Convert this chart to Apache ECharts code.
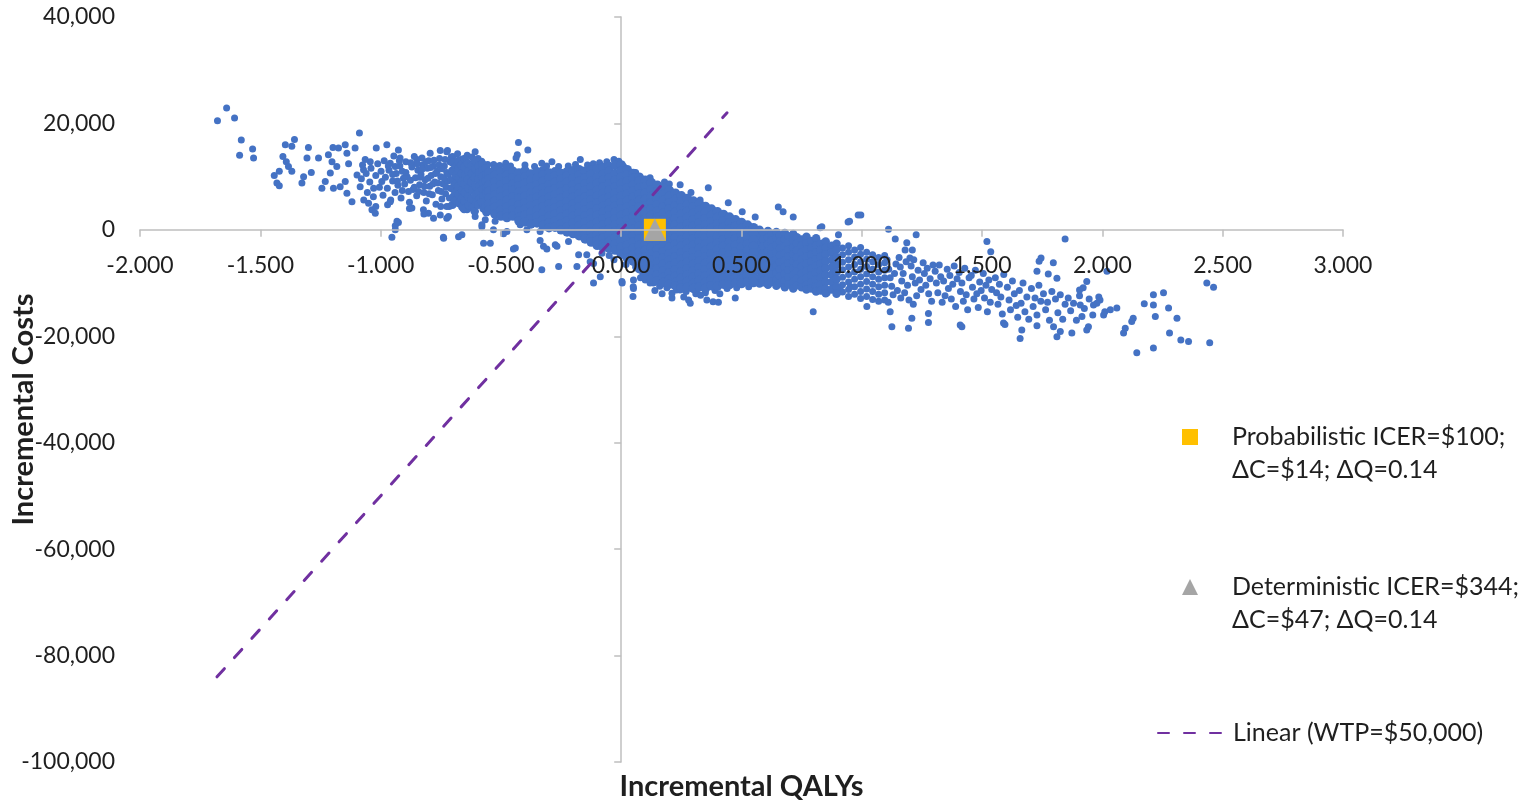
<!DOCTYPE html>
<html>
<head>
<meta charset="utf-8">
<script src="https://cdn.jsdelivr.net/npm/echarts@6/dist/echarts.min.js"></script>
<style>
html,body{margin:0;padding:0;background:#ffffff;}
#chart{width:1530px;height:810px;}
</style>
</head>
<body>
<div id="chart"></div>
<script>
// ---------------- DATA ----------------
const xTickMin = -2, xTickMax = 3, xTickStep = 0.5;
const yTickMin = -100000, yTickMax = 40000, yTickStep = 20000;

// Sparse simulations, far left (QALY, cost)
const psaFarLeft = [
  [-1.678,20500],[-1.640,22900],[-1.607,21000],[-1.579,16900],[-1.586,14000],[-1.532,15200],[-1.528,13500],
  [-1.442,10200],[-1.421,11000],[-1.431,8800],[-1.421,8300],[-1.406,13800],[-1.396,16000],[-1.358,17000],
  [-1.369,15700],[-1.392,12800],[-1.383,11900],[-1.369,11000],[-1.327,8800],[-1.320,10000],[-1.306,13500],
  [-1.300,15500],[-1.288,10800],[-1.258,13500],[-1.244,7800],[-1.230,9100],[-1.217,14100],[-1.202,12800],
  [-1.198,15500],[-1.175,15400],[-1.182,11900],[-1.209,10700],[-1.196,7800],[-1.168,8100],[-1.147,16000],
  [-1.140,14400],[-1.133,12400],[-1.147,9100],[-1.140,6900],[-1.119,5300],[-1.106,15400],[-1.088,18200],
  [-1.098,10300],[-1.085,8100],[-1.071,11300]
];

// Simulations between -1.1 and -0.7 QALY
const psaMidLeft = [
  [-1.050,5000],[-1.036,3800],[-1.022,3100],[-1.029,7800],[-1.043,12800],[-1.018,15400],[-1.064,13200],
  [-0.995,9100],[-0.974,16000],[-0.971,4700],[-0.960,12500],[-0.939,11900],[-0.926,15000],[-0.932,1600],
  [-0.939,0],[-0.953,-1400],[-0.919,13500],[-0.905,9700],[-0.884,7200],[-0.870,4100],[-0.849,13200],
  [-0.828,13500],[-0.822,3800],[-0.794,14400],[-0.801,3100],[-0.752,14900],[-0.722,14900],[-0.739,-1400],
  [-0.725,2200],[-0.676,-1300],[-0.939,750],[-0.926,1400],
  [-1.080,9600],[-1.075,12200],[-1.060,10600],[-1.055,7000],[-1.045,9000],[-1.040,11600],[-1.030,6200],
  [-1.020,10200],[-1.012,12400],[-1.005,8000],[-0.998,11000],[-0.990,6500],[-0.985,13000],[-0.980,9900],
  [-0.972,7800],[-0.965,11200],[-0.958,5600],[-0.950,9200],[-0.945,13900],[-0.940,7000],[-0.935,10600],
  [-0.928,8400],[-0.920,12000],[-0.915,6000],[-0.910,11000],[-0.900,8600],[-0.895,12800],[-0.890,10000],
  [-0.880,5200],[-0.876,9300],[-0.870,11800],[-0.865,7600],[-0.860,13800],[-0.855,9800],[-0.850,6400],
  [-0.845,11200],[-0.838,8500],[-0.832,10400],[-0.826,12200],[-0.820,7000],[-0.815,9400],[-0.810,5400],
  [-0.806,11600],[-0.800,13000],[-0.796,8200],[-0.790,10200],[-0.785,6600],[-0.780,12000],[-0.775,9000],
  [-0.770,4800],[-0.765,11000],[-0.760,7400],[-0.755,13400],[-0.750,10000],[-0.745,5800],[-0.740,8600],
  [-0.735,12000],[-0.730,6800],[-0.725,10800],[-0.720,9200],[-0.715,4400],[-0.712,12800],[-0.708,7800],
  [-0.704,11200],
  [-0.848,12400],[-0.842,7200],[-0.836,9900],[-0.828,11400],[-0.818,8200],[-0.812,12800],[-0.803,9700],
  [-0.798,6800],[-0.792,11700],[-0.783,8600],[-0.778,13100],[-0.772,10600],[-0.762,8800],[-0.757,12200],
  [-0.748,7200],[-0.744,11500],[-0.738,9800],[-0.732,13200],[-0.727,8000],[-0.718,10400],[-0.714,6000],
  [-0.709,9400],[-0.706,13700],[-0.950,10400],[-0.930,9200],[-0.910,7400],[-0.895,10800],[-0.875,12600],
  [-0.860,8000],[-0.968,12000],[-0.922,13000],
  [-1.070,5600],[-1.020,4400],[-0.960,5300],[-0.880,4000],[-0.820,3000],[-0.780,2200],[-0.750,4400]
];

// Simulations between -0.7 and -0.56 QALY
const psaNearCoreLeft = [
  [-0.700,12600],[-0.700,11000],[-0.698,9300],[-0.702,7800],[-0.697,6200],[-0.701,4700],
  [-0.688,11900],[-0.686,10200],[-0.690,8600],[-0.689,7000],[-0.687,5500],
  [-0.676,13000],[-0.677,11400],[-0.674,9800],[-0.678,8200],[-0.675,6600],[-0.673,5000],
  [-0.664,12200],[-0.662,10600],[-0.665,9000],[-0.661,7400],[-0.663,5800],[-0.660,4300],
  [-0.650,13300],[-0.652,11800],[-0.648,10200],[-0.651,8600],[-0.649,7000],[-0.650,5400],[-0.653,3900],
  [-0.637,12500],[-0.635,11000],[-0.638,9400],[-0.634,7800],[-0.636,6200],[-0.633,4600],
  [-0.622,12100],[-0.620,10600],[-0.623,9000],[-0.619,7400],[-0.621,5800],[-0.618,4200],
  [-0.607,13000],[-0.605,11400],[-0.608,9800],[-0.604,8200],[-0.606,6600],[-0.603,5000],[-0.609,3500],
  [-0.592,12000],[-0.590,10800],[-0.593,9500],[-0.589,8300],[-0.591,7100],[-0.588,5900],[-0.594,4700],
  [-0.577,12400],[-0.575,11200],[-0.578,10000],[-0.574,8800],[-0.576,7600],[-0.573,6400],[-0.579,5200],[-0.572,4000],
  [-0.562,11600],[-0.560,10400],[-0.563,9200],[-0.559,8000],[-0.561,6800],[-0.558,5600],[-0.564,4400],[-0.560,3300]
];

// Dense core: each row is [QALY, cost, cost, ...]
const psaCoreColumns = [
  [-0.550,10800,9600,8400,7200,6000,4800,3700],
  [-0.525,11300,10200,9000,7800,6600,5400,4200,3000],
  [-0.500,10900,9700,8500,7300,6100,4900,3700,2600],
  [-0.475,11500,10300,9100,7900,6700,5500,4300,3100,2300],
  [-0.450,11000,9800,8600,7400,6200,5000,3800,2600],
  [-0.425,10700,9500,8300,7100,5900,4700,3500,2300,1700],
  [-0.400,11100,9900,8700,7500,6300,5100,3900,2700,1500],
  [-0.375,10500,9300,8100,6900,5700,4500,3300,2100,1100],
  [-0.350,10900,9700,8500,7300,6100,4900,3700,2500,1300],
  [-0.325,11100,10300,9100,7900,6700,5500,4300,3100,1900,800],
  [-0.300,10700,9700,8500,7300,6100,4900,3700,2500,1300,400],
  [-0.275,10900,10100,8900,7700,6500,5300,4100,2900,1700,500],
  [-0.250,10600,9500,8300,7100,5900,4700,3500,2300,1100,0],
  [-0.225,10900,10100,8900,7700,6500,5300,4100,2900,1700,500,-400],
  [-0.200,11100,9700,8500,7300,6100,4900,3700,2500,1300,100,-700],
  [-0.175,11300,10300,9100,7900,6700,5500,4300,3100,1900,700,-500,-1100],
  [-0.150,11000,9800,8600,7400,6200,5000,3800,2600,1400,200,-1000,-1700],
  [-0.125,11300,10400,9200,8000,6800,5600,4400,3200,2000,800,-400,-1600,-2300],
  [-0.100,11500,9900,8700,7500,6300,5100,3900,2700,1500,300,-900,-2000,-2900],
  [-0.075,11700,10500,9300,8100,6900,5700,4500,3300,2100,900,-300,-1500,-2700,-3300],
  [-0.050,11900,11000,9800,8600,7400,6200,5000,3800,2600,1400,200,-1000,-2200,-3500],
  [-0.025,12100,10500,9300,8100,6900,5700,4500,3300,2100,900,-300,-1500,-2700,-3800],
  [0.000,12200,11100,9900,8700,7500,6300,5100,3900,2700,1500,300,-900,-2100,-3300,-4600],
  [0.025,11300,10300,9100,7900,6700,5500,4300,3100,1900,700,-500,-1700,-2900,-4100,-5300],
  [0.050,10600,9700,8500,7300,6100,4900,3700,2500,1300,100,-1100,-2300,-3500,-4700,-5900],
  [0.075,9900,9100,7900,6700,5500,4300,3100,1900,700,-500,-1700,-2900,-4100,-5300,-6500,-7300],
  [0.100,9300,8100,6900,5700,4500,3300,2100,900,-300,-1500,-2700,-3900,-5100,-6300,-7500,-8700],
  [0.125,8900,7500,6300,5100,3900,2700,1500,300,-900,-2100,-3300,-4500,-5700,-6900,-8100,-9200],
  [0.150,8400,7100,5900,4700,3500,2300,1100,-100,-1300,-2500,-3700,-4900,-6100,-7300,-8500,-9600],
  [0.175,7900,6700,5500,4300,3100,1900,700,-500,-1700,-2900,-4100,-5300,-6500,-7700,-8900,-9900],
  [0.200,7400,6300,5100,3900,2700,1500,300,-900,-2100,-3300,-4500,-5700,-6900,-8100,-9300,-10200],
  [0.225,6900,5700,4500,3300,2100,900,-300,-1500,-2700,-3900,-5100,-6300,-7500,-8700,-9900,-10500],
  [0.250,6400,5300,4100,2900,1700,500,-700,-1900,-3100,-4300,-5500,-6700,-7900,-9100,-10300,-10900],
  [0.275,5900,4700,3500,2300,1100,-100,-1300,-2500,-3700,-4900,-6100,-7300,-8500,-9700,-10800],
  [0.300,5400,4300,3100,1900,700,-500,-1700,-2900,-4100,-5300,-6500,-7700,-8900,-10100,-11000],
  [0.325,4900,3700,2500,1300,100,-1100,-2300,-3500,-4700,-5900,-7100,-8300,-9500,-10700],
  [0.350,4400,3300,2100,900,-300,-1500,-2700,-3900,-5100,-6300,-7500,-8700,-9900,-11000],
  [0.375,3900,2700,1500,300,-900,-2100,-3300,-4500,-5700,-6900,-8100,-9300,-10500],
  [0.400,3400,2300,1100,-100,-1300,-2500,-3700,-4900,-6100,-7300,-8500,-9700,-10600],
  [0.425,2900,1700,500,-700,-1900,-3100,-4300,-5500,-6700,-7900,-9100,-10200],
  [0.450,2400,1300,100,-1100,-2300,-3500,-4700,-5900,-7100,-8300,-9500,-10300],
  [0.475,1900,700,-500,-1700,-2900,-4100,-5300,-6500,-7700,-8900,-10000],
  [0.500,1400,300,-900,-2100,-3300,-4500,-5700,-6900,-8100,-9300,-10100],
  [0.525,900,-300,-1500,-2700,-3900,-5100,-6300,-7500,-8700,-9800],
  [0.550,400,-700,-1900,-3100,-4300,-5500,-6700,-7900,-9100,-9900]
];

// Right of the core (0.55 - 0.9 QALY): each row is [QALY, cost, cost, ...]
const psaMidRightColumns = [
  [0.575,0,-1200,-2500,-3800,-5100,-6400,-7700,-9000,-10100],
  [0.590,-600,-1800,-3100,-4400,-5700,-7000,-8300,-9600],
  [0.610,-200,-1400,-2700,-4000,-5300,-6600,-7900,-9200,-10300],
  [0.625,-800,-2000,-3300,-4600,-5900,-7200,-8500,-9800],
  [0.645,-400,-1600,-2900,-4200,-5500,-6800,-8100,-9400,-10500],
  [0.660,-1000,-2200,-3500,-4800,-6100,-7400,-8700,-10000],
  [0.680,-600,-1800,-3100,-4400,-5700,-7000,-8300,-9600,-10800],
  [0.695,-1200,-2400,-3700,-5000,-6300,-7600,-8900,-10200],
  [0.715,-800,-2000,-3300,-4600,-5900,-7200,-8500,-9800,-11000],
  [0.730,-1400,-2600,-3900,-5200,-6500,-7800,-9100,-10400],
  [0.750,-1800,-3000,-4300,-5600,-6900,-8200,-9500,-10800],
  [0.770,-1300,-2500,-3800,-5100,-6400,-7700,-9000,-10300,-11200],
  [0.790,-2100,-3400,-4700,-6000,-7300,-8600,-9900,-11000],
  [0.810,-1600,-2900,-4200,-5500,-6800,-8100,-9400,-10700,-11600],
  [0.830,-2600,-3800,-5100,-6400,-7700,-9000,-10300,-11400],
  [0.850,-2200,-3300,-4600,-5900,-7200,-8500,-9800,-11100,-11900],
  [0.875,-3000,-4200,-5600,-7000,-8400,-9800,-11200],
  [0.895,-2600,-3700,-5100,-6500,-7900,-9300,-10700,-12000]
];

// Thinning band (0.9 - 1.1 QALY): each row is [QALY, cost, cost, ...]
const psaOuterRightColumns = [
  [0.920,-3400,-4700,-6100,-7500,-8900,-10300,-11700],
  [0.945,-3000,-4200,-5600,-7000,-8400,-9800,-11200,-12500],
  [0.970,-3800,-5100,-6500,-7900,-9300,-10700,-12100],
  [0.995,-3300,-4600,-6000,-7400,-8800,-10200,-11600,-12900],
  [1.020,-4200,-5500,-6900,-8300,-9700,-11100,-12500],
  [1.045,-4700,-6000,-7400,-8800,-10200,-11600,-13100],
  [1.070,-5200,-6500,-7900,-9300,-10700,-12100,-13400],
  [1.095,-4800,-6200,-7600,-9000,-10400,-11800,-13200]
];

// Scattered simulations around the core edges
const psaFringe = [
  [-0.752,2800],[-0.718,2500],[-0.725,4400],[-0.641,3800],[-0.607,2500],[-0.565,1900],[-0.738,-1600],
  [-0.662,-940],[-0.579,600],[-0.572,-2500],[-0.544,-2500],[-0.531,0],[-0.440,-3400],[-0.337,-300],
  [-0.323,-3100],[-0.274,-2800],[-0.260,-6900],[-0.184,-6900],[-0.143,-4700],[-0.579,940],[-0.524,1600],
  [-0.475,-300],[-0.420,940],[-0.392,0],[-0.489,-750],[-0.448,-3600],[-0.330,-7500],[-0.309,-3600],
  [-0.337,-2000],[-0.267,-3100],[-0.219,-2200],[-0.177,-4700],[-0.129,-6000],[-0.115,-6300],[-0.087,-8800],
  [-0.115,-10000],[0.003,-9700],[0.051,-9400],[0.051,-11000],[0.049,-12500],[0.134,-10000],[0.211,-12800],
  [0.280,-13200],[0.315,-11900],[0.356,-13200],[0.004,-10000],[0.050,-10700],[0.211,-11900],[0.245,-11300],
  [0.287,-13800],[0.382,-13500],[0.404,-13600],[0.474,-12800],[0.481,-10000],[0.564,-9100],[0.591,-10000],
  [0.798,-15400],[0.856,-11800],[0.910,-11300],[0.952,-10700],
  [0.020,-6500],[0.060,-7000],[0.090,-8200],[0.120,-10000],[0.160,-10600],[0.190,-10900],[0.230,-11300],
  [0.270,-11600],[0.310,-12000],[0.350,-11800],[0.390,-11400],[0.440,-11000],[0.480,-10900],[0.530,-10700],
  [-0.050,-4800],[-0.080,-4400],[-0.030,-5600],[0.100,-9400],[0.170,-12000],[0.260,-12600],[0.330,-12300],
  [0.410,-12000],[0.080,-9000],[0.140,-11400],
  [-0.700,13800],[-0.680,14300],[-0.660,13300],[-0.640,14000],[-0.620,13700],[-0.595,13400],[-0.580,12900],
  [-0.555,12300],[-0.530,12300],[-0.505,12100],[-0.480,12500],[-0.460,12000],[-0.400,12200],[-0.360,11900],
  [-0.310,12000],[-0.260,11900],[-0.220,12000],[-0.190,12300],[-0.140,12200],[-0.090,12600],[-0.060,12800],
  [-0.030,13200],[-0.010,12900],[0.010,11900],[-0.427,16400],[-0.432,14100],[-0.437,13500],[-0.388,15000],
  [-0.607,14700],[-0.725,14700],[-0.288,12800],[-0.330,12500],[-0.170,13200],[-0.116,12400],[0.003,11900],
  [0.060,10800],[0.120,9800],[0.180,9000],[0.200,8600],[0.290,7000],
  [0.245,8500],[0.362,7900],[0.328,5600],[0.445,5100],[0.503,3400],[0.557,2400],[0.653,4300],[0.673,3400],
  [0.715,2400],[0.943,1500],[0.827,400],[0.985,2800],[0.633,-1600],[0.834,600],[0.903,-940],[0.996,2800],
  [0.949,1600],[1.111,100],[1.139,-1700],[1.187,-2400],[1.226,-940],[1.180,-3800],[1.210,-3800],
  [1.200,-5300],[1.520,-2200],[1.536,-4100],[1.845,-1700]
];

// Band of simulations between 1.1 and 2.0 QALY
const psaRightBand = [
  [1.105,-5600],[1.112,-7400],[1.118,-9000],[1.124,-10600],[1.130,-12200],[1.136,-8200],[1.142,-6400],[1.148,-11400],[1.110,-13600],
  [1.155,-5200],[1.160,-7000],[1.166,-9600],[1.172,-8200],[1.178,-11800],[1.184,-6000],[1.190,-10400],[1.196,-13200],[1.162,-12800],
  [1.205,-6800],[1.210,-8800],[1.216,-5600],[1.222,-10000],[1.228,-12400],[1.234,-7600],[1.240,-9400],[1.246,-11200],[1.214,-14000],
  [1.255,-6200],[1.260,-8200],[1.266,-10400],[1.272,-7200],[1.278,-12000],[1.284,-9200],[1.290,-13400],[1.296,-6600],
  [1.305,-7800],[1.310,-10000],[1.316,-11800],[1.322,-6600],[1.328,-8800],[1.334,-13600],[1.340,-9600],[1.346,-12400],
  [1.355,-7400],[1.360,-11000],[1.366,-8600],[1.372,-13000],[1.378,-10200],[1.384,-6800],[1.390,-14400],[1.396,-9200],
  [1.405,-8000],[1.410,-11600],[1.416,-10000],[1.422,-13400],[1.428,-7200],[1.434,-12200],[1.440,-15000],[1.446,-9000],
  [1.455,-8600],[1.460,-10800],[1.466,-13000],[1.472,-7600],[1.478,-12000],[1.484,-14600],[1.490,-9800],[1.496,-11400],
  [1.505,-8200],[1.510,-12800],[1.516,-10400],[1.522,-15400],[1.528,-9400],[1.534,-13600],[1.540,-11200],
  [1.555,-9000],[1.560,-11800],[1.566,-14000],[1.572,-10200],[1.578,-12600],[1.584,-15800],[1.590,-8400],
  [1.605,-10800],[1.612,-13200],[1.618,-15000],[1.626,-9600],[1.634,-12000],[1.642,-14200],[1.648,-16400],
  [1.655,-11400],[1.662,-13800],[1.670,-10000],[1.678,-15400],[1.686,-12600],[1.694,-16800],
  [1.705,-11000],[1.712,-14400],[1.720,-12800],[1.728,-16000],[1.736,-10400],[1.744,-13400],
  [1.755,-12000],[1.764,-15000],[1.772,-13600],[1.780,-17000],[1.790,-11600],
  [1.805,-13000],[1.815,-15600],[1.825,-12200],[1.835,-16800],[1.845,-14000],
  [1.858,-12800],[1.868,-15200],[1.880,-13800],[1.892,-17000],
  [1.905,-12400],[1.925,-14800],[1.945,-13000],[1.960,-16000],[1.985,-12600]
];

// Outlying simulations on the right
const psaRightTail = [
  [1.745,-5300],[1.737,-5900],[1.796,-6200],[1.728,-7800],[1.775,-8300],[1.811,-9100],[2.019,-7800],
  [1.935,-9700],[1.920,-10900],[1.905,-11300],[2.434,-10000],[2.462,-10800],[2.212,-12200],[2.254,-11800],
  [2.174,-13900],[2.212,-14100],[2.275,-14700],[2.220,-16300],[2.310,-16600],[2.128,-16600],[2.122,-17200],
  [2.095,-18500],[2.088,-19400],[2.279,-19400],[2.326,-20700],[2.358,-21000],[2.446,-21200],[2.143,-23100],
  [2.212,-22200],[2.060,-14700],[2.033,-15000],[2.005,-16000],[2.010,-15400],[1.990,-13200],[1.977,-13800],
  [1.963,-14100],[1.908,-14100],[1.915,-16300],[1.942,-18200],[1.935,-18800],[1.873,-19400],[1.825,-19100],
  [1.811,-20100],[1.797,-18200],[1.728,-18000],[1.658,-20400],[1.665,-18800],[1.589,-17500],[1.595,-17800],
  [1.409,-17900],[1.416,-18200],[1.277,-17400],[1.194,-18500],[1.125,-18200],[1.021,-14400],[1.118,-15400],
  [1.208,-16600],[1.277,-15700]
];

const probabilisticPoint = [[0.14, 14]];
const deterministicPoint = [[0.14, 47]];
const wtpLine = [[-1.68, -84000], [0.44, 22000]];

const seriesNames = {
  prob: 'Probabilistic ICER=$100; ΔC=$14; ΔQ=0.14',
  det: 'Deterministic ICER=$344; ΔC=$47; ΔQ=0.14',
  wtp: 'Linear (WTP=$50,000)'
};
const legendLines = {
  prob: ['Probabilistic ICER=$100;', 'ΔC=$14; ΔQ=0.14'],
  det: ['Deterministic ICER=$344;', 'ΔC=$47; ΔQ=0.14'],
  wtp: ['Linear (WTP=$50,000)']
};
const xAxisTitle = 'Incremental QALYs';
const yAxisTitle = 'Incremental Costs';

// ---------------- BUILD ----------------
function fromColumns(cols) {
  const out = [];
  cols.forEach(function (row) {
    for (let i = 1; i < row.length; i++) out.push([row[0], row[i]]);
  });
  return out;
}
const psaSparse = [].concat(psaFarLeft, psaMidLeft, psaFringe, fromColumns(psaOuterRightColumns),
  psaRightBand, psaRightTail);
const psaDense = fromColumns(psaCoreColumns);
const psaMedium = [].concat(psaNearCoreLeft, fromColumns(psaMidRightColumns));

const FONT = 'Lato';
const TEXT = '#1f1f1f';
const AXIS = '#bfbfbf';
const BLUE = '#4472C4';

const GRID = {left: 140, right: 187, top: 17, bottom: 48};
const W = 1530, H = 810;
const plotW = W - GRID.left - GRID.right, plotH = H - GRID.top - GRID.bottom;
// shift the value axes so they cross at zero
const xAxisOffset = -(plotH * (0 - yTickMin) / (yTickMax - yTickMin));
const yAxisOffset = -(plotW * (0 - xTickMin) / (xTickMax - xTickMin));

const legendFormatter = function (name) {
  if (name === seriesNames.prob) return '\n' + legendLines.prob.join('\n');
  if (name === seriesNames.det) return '\n' + legendLines.det.join('\n');
  return legendLines.wtp.join('\n');
};
const legendText = function (padLeft) {
  return {fontFamily: FONT, fontSize: 25, color: TEXT, lineHeight: 33, padding: [0, 0, 0, padLeft]};
};

const chart = echarts.init(document.getElementById('chart'), null, {renderer: 'canvas'});
chart.setOption({
  animation: false,
  backgroundColor: '#ffffff',
  grid: Object.assign({containLabel: false, outerBoundsMode: 'none'}, GRID),
  xAxis: [
    {
      type: 'value', min: xTickMin, max: xTickMax, interval: xTickStep, z: 10,
      position: 'bottom', offset: xAxisOffset,
      axisLine: {onZero: false, lineStyle: {color: AXIS, width: 1.5}},
      axisTick: {show: true, inside: false, length: 7, lineStyle: {color: AXIS, width: 1.5}},
      axisLabel: {margin: 24, fontFamily: FONT, fontSize: 23, color: TEXT,
        formatter: function (v) { return v.toFixed(3); }},
      splitLine: {show: false}
    },
    {
      type: 'value', position: 'bottom', min: xTickMin, max: xTickMax, interval: xTickStep,
      axisLine: {show: false, onZero: false}, axisTick: {show: false}, axisLabel: {show: false},
      splitLine: {show: false},
      name: xAxisTitle, nameLocation: 'middle', nameGap: 10, nameMoveOverlap: false,
      nameTextStyle: {fontFamily: FONT, fontSize: 29, fontWeight: 'bold', color: TEXT}
    }
  ],
  yAxis: [
    {
      type: 'value', min: yTickMin, max: yTickMax, interval: yTickStep,
      position: 'left', offset: yAxisOffset,
      axisLine: {show: true, onZero: false, lineStyle: {color: AXIS, width: 1.5}},
      axisTick: {show: true, inside: false, length: 7, lineStyle: {color: AXIS, width: 1.5}},
      axisLabel: {show: false}, splitLine: {show: false}
    },
    {
      type: 'value', position: 'left', min: yTickMin, max: yTickMax, interval: yTickStep,
      axisLine: {show: false, onZero: false}, axisTick: {show: false},
      axisLabel: {margin: 25, fontFamily: FONT, fontSize: 23, color: TEXT,
        formatter: function (v) { return v.toLocaleString('en-US'); }},
      splitLine: {show: false},
      name: yAxisTitle, nameLocation: 'middle', nameGap: 102, nameMoveOverlap: false,
      nameTextStyle: {fontFamily: FONT, fontSize: 29, fontWeight: 'bold', color: TEXT, padding: [0, 40, 0, 0]}
    }
  ],
  legend: [
    {
      orient: 'vertical', left: 1182, top: 387.5, padding: 0, itemWidth: 16, itemHeight: 16,
      selectedMode: false, formatter: legendFormatter, data: [seriesNames.prob], textStyle: legendText(29)
    },
    {
      orient: 'vertical', left: 1182, top: 537.5, padding: 0, itemWidth: 16, itemHeight: 16,
      selectedMode: false, formatter: legendFormatter, data: [seriesNames.det], textStyle: legendText(29)
    },
    {
      orient: 'vertical', left: 1157, top: 716.5, padding: 0, itemWidth: 65, itemHeight: 16,
      selectedMode: false, formatter: legendFormatter, data: [seriesNames.wtp], textStyle: legendText(5)
    }
  ],
  series: [
    {
      name: 'PSA simulations', type: 'scatter', data: psaSparse,
      symbol: 'circle', symbolSize: 7, z: 2, silent: true,
      itemStyle: {color: BLUE, opacity: 1}
    },
    {
      name: 'PSA simulations (dense)', type: 'scatter', data: psaMedium,
      symbol: 'circle', symbolSize: 8.5, z: 2, silent: true,
      itemStyle: {color: BLUE, opacity: 1}
    },
    {
      name: 'PSA simulations (core)', type: 'scatter', data: psaDense,
      symbol: 'circle', symbolSize: 9.5, z: 2, silent: true,
      itemStyle: {color: BLUE, opacity: 1}
    },
    {
      name: seriesNames.wtp, type: 'line', data: wtpLine,
      symbol: 'none', z: 3, silent: true,
      lineStyle: {color: '#7030A0', width: 3, type: [11, 15], cap: 'round'},
      itemStyle: {color: 'rgba(0,0,0,0)'}
    },
    {
      name: seriesNames.prob, type: 'scatter', data: probabilisticPoint,
      symbol: 'rect', symbolSize: 22, z: 4, itemStyle: {color: '#FFC000', opacity: 1}
    },
    {
      name: seriesNames.det, type: 'scatter', data: deterministicPoint,
      symbol: 'triangle', symbolSize: 22, z: 5, itemStyle: {color: '#A5A5A5', opacity: 1}
    }
  ]
});
</script>
</body>
</html>
